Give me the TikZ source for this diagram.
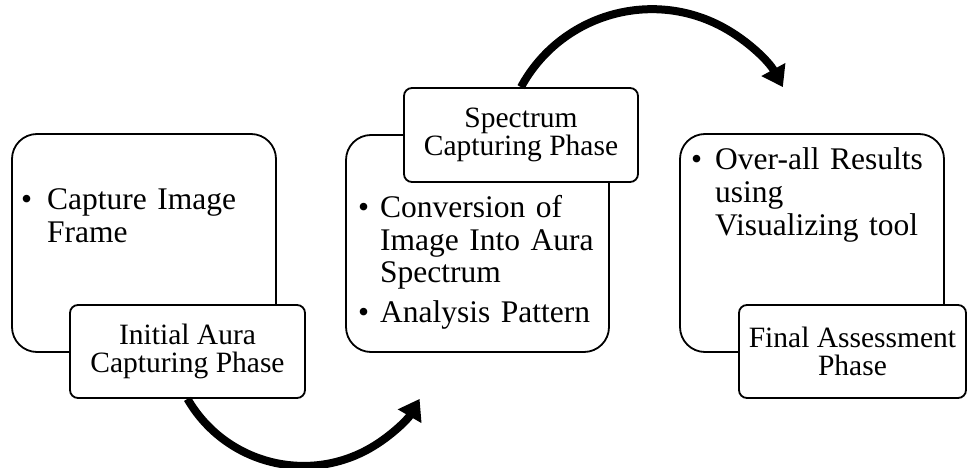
\documentclass[tikz,border=0pt]{standalone}
\usepackage{fontspec}
\setmainfont{Liberation Serif}
\usetikzlibrary{arrows.meta}
\newcommand\bdyfont{\fontsize{31.5}{32.5}\selectfont}
\newcommand\lblfont{\fontsize{29.5}{27.5}\selectfont}
\tikzset{
  bigbox/.style={draw, line width=1.8pt, rounded corners=25pt, fill=white, inner sep=0pt},
  labelbox/.style={draw, line width=1.8pt, rounded corners=8pt, fill=white, inner sep=0pt, align=center, font=\lblfont},
  bodytext/.style={anchor=base west, inner sep=0pt, text width=235pt, align=left, font=\bdyfont},
  bulletmark/.style={anchor=base west, inner sep=0pt, font=\bdyfont},
  flow/.style={line width=8pt, -{Triangle[width=26pt,length=20pt]}}
}
\begin{document}
\begin{tikzpicture}[x=1pt,y=1pt]
\useasboundingbox (0,0) rectangle (967,-468);
% box 1
\node[bigbox, minimum width=264pt, minimum height=218pt] (b1) at (144,-243) {};
\node[bulletmark] (b1d1) at (21,-210) {•};
\node[bodytext] (b1t1) at (47,-210) {Capture Image\\Frame};
\node[labelbox, minimum width=235pt, minimum height=93pt] (l1) at (187.5,-351.5) {Initial Aura\\Capturing Phase};
% box 2
\node[bigbox, minimum width=263pt, minimum height=217pt] (b2) at (477.5,-243.5) {};
\node[bulletmark] (b2d1) at (358,-217) {•};
\node[bodytext, font=\fontsize{31.5}{33}\selectfont] (b2t1) at (380,-217) {Conversion of\\Image Into Aura\\Spectrum};
\node[bulletmark] (b2d2) at (358,-322) {•};
\node[bodytext] (b2t2) at (380,-322) {Analysis Pattern};
\node[labelbox, minimum width=234pt, minimum height=94pt] (l2) at (521,-135) {Spectrum\\Capturing Phase};
% box 3
\node[bigbox, minimum width=264pt, minimum height=218pt] (b3) at (812,-243) {};
\node[bulletmark] (b3d1) at (691,-170) {•};
\node[bodytext, font=\fontsize{31.5}{33}\selectfont] (b3t1) at (715,-170) {Over-all Results\\using\\Visualizing tool};
\node[labelbox, minimum width=227pt, minimum height=93pt] (l3) at (852.5,-351.5) {Final Assessment\\Phase};
% arrows
\draw[flow] (l1.south) arc[start angle=210, end angle=330, radius=134pt];
\draw[flow] (l2.north) arc[start angle=151.5, end angle=28.5, radius=149pt];
\end{tikzpicture}
\end{document}
